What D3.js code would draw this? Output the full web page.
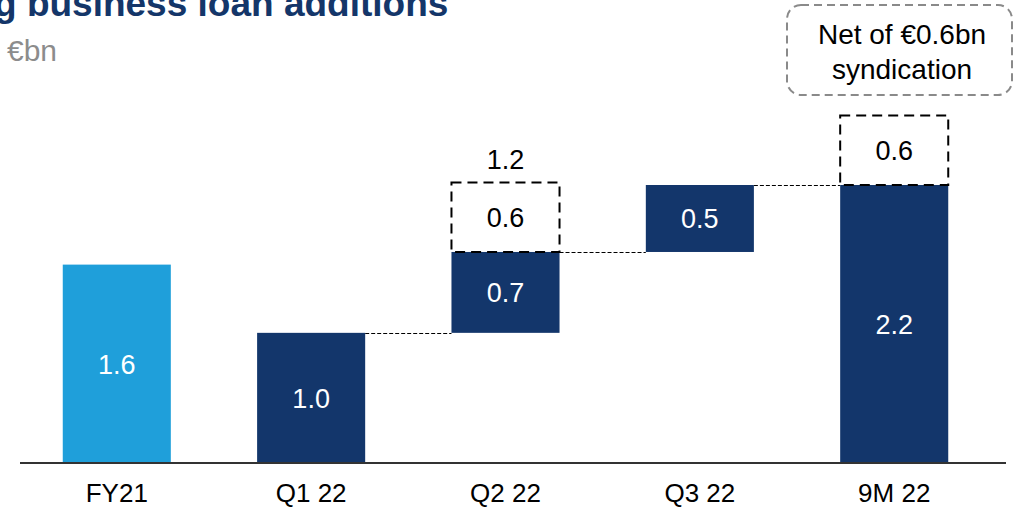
<!DOCTYPE html>
<html>
<head>
<meta charset="utf-8">
<script src="https://cdn.jsdelivr.net/npm/d3@7"></script>
<style>
  body { margin: 0; background: #fff; }
  svg { display: block; font-family: "Liberation Sans", Arial, sans-serif; }
</style>
</head>
<body>
<div id="chart"></div>
<script>
// categories and values (€bn)
var categories = ['FY21', 'Q1 22', 'Q2 22', 'Q3 22', '9M 22'];
var barBase   = [0, 0, 1.03, 1.67, 0];          // where each solid bar starts
var barValue  = [1.57, 1.03, 0.64, 0.53, 2.2];   // solid bar size
var barLabels = ['1.6', '1.0', '0.7', '0.5', '2.2'];
var syndValue  = [0, 0, 0.55, 0, 0.55];          // dashed syndication box
var syndLabels = ['', '', '0.6', '', '0.6'];
var totalLabels = ['', '', '1.2', '', ''];

var svgWidth = 1026, svgHeight = 511;

var svg = d3.select('#chart').append('svg')
  .attr('width', svgWidth)
  .attr('height', svgHeight);

var x = d3.scaleBand()
  .domain(categories)
  .range([20, 991])
  .paddingInner(0.444)
  .paddingOuter(0.22);

var y = d3.scaleLinear()
  .domain([0, 2.2])
  .range([463, 185]);

var data = categories.map(function(c, i) {
  return {
    cat: c, base: barBase[i], value: barValue[i], label: barLabels[i],
    synd: syndValue[i], syndLabel: syndLabels[i], total: totalLabels[i],
    color: i === 0 ? '#1f9fda' : '#13366b'
  };
});

// title (cut off at top) and unit
svg.append('text')
  .attr('x', -6).attr('y', 16)
  .attr('font-size', 37).attr('font-weight', 'bold')
  .attr('fill', '#143669')
  .text('g business loan additions');
svg.append('text')
  .attr('x', 7).attr('y', 61)
  .attr('font-size', 30).attr('fill', '#8c8c8c')
  .text('€bn');

// connector lines between bars
for (var i = 2; i < data.length; i++) {
  var prev = data[i - 1];
  var lvl = Math.round(y(prev.base + prev.value)) + 0.5;
  svg.append('line')
    .attr('x1', x(prev.cat) + x.bandwidth())
    .attr('x2', x(data[i].cat))
    .attr('y1', lvl).attr('y2', lvl)
    .attr('stroke', '#000').attr('stroke-width', 1)
    .attr('stroke-dasharray', '4,2');
}

// solid bars
svg.selectAll('.bar').data(data).enter().append('rect')
  .attr('class', 'bar')
  .attr('x', d => x(d.cat))
  .attr('width', x.bandwidth())
  .attr('y', d => y(d.base + d.value))
  .attr('height', d => y(d.base) - y(d.base + d.value))
  .attr('fill', d => d.color);

svg.selectAll('.barlabel').data(data).enter().append('text')
  .attr('x', d => x(d.cat) + x.bandwidth() / 2)
  .attr('y', d => y(d.base + d.value / 2) + 10)
  .attr('text-anchor', 'middle')
  .attr('font-size', 27).attr('fill', '#fff')
  .text(d => d.label);

// dashed syndication boxes
var synd = data.filter(d => d.synd > 0);
svg.selectAll('.synd').data(synd).enter().append('rect')
  .attr('x', d => x(d.cat))
  .attr('width', x.bandwidth())
  .attr('y', d => y(d.base + d.value + d.synd))
  .attr('height', d => y(d.base + d.value) - y(d.base + d.value + d.synd))
  .attr('fill', 'none').attr('stroke', '#000')
  .attr('stroke-width', 2).attr('stroke-dasharray', '10,6');

svg.selectAll('.synlabel').data(synd).enter().append('text')
  .attr('x', d => x(d.cat) + x.bandwidth() / 2)
  .attr('y', d => y(d.base + d.value + d.synd / 2) + 10)
  .attr('text-anchor', 'middle')
  .attr('font-size', 27).attr('fill', '#000')
  .text(d => d.syndLabel);

svg.selectAll('.total').data(data.filter(d => d.total)).enter().append('text')
  .attr('x', d => x(d.cat) + x.bandwidth() / 2)
  .attr('y', d => y(d.base + d.value + d.synd) - 13)
  .attr('text-anchor', 'middle')
  .attr('font-size', 27).attr('fill', '#000')
  .text(d => d.total);

// x axis
var xAxis = svg.append('g')
  .attr('transform', 'translate(0,' + y(0) + ')')
  .call(d3.axisBottom(x).tickSize(0).tickPadding(21));
xAxis.select('.domain').attr('stroke', '#333').attr('stroke-width', 2)
  .attr('d', 'M20,0H1006');
xAxis.selectAll('text')
  .attr('font-size', 26).attr('fill', '#000')
  .attr('font-family', '"Liberation Sans", Arial, sans-serif');

// callout
svg.append('rect')
  .attr('x', 787).attr('y', 5)
  .attr('width', 225).attr('height', 90)
  .attr('rx', 14)
  .attr('fill', 'none').attr('stroke', '#8a8a8a')
  .attr('stroke-width', 2).attr('stroke-dasharray', '8,5');
svg.append('text')
  .attr('x', 902).attr('y', 44)
  .attr('text-anchor', 'middle').attr('font-size', 28)
  .text('Net of €0.6bn');
svg.append('text')
  .attr('x', 902).attr('y', 79)
  .attr('text-anchor', 'middle').attr('font-size', 28)
  .text('syndication');
</script>
</body>
</html>
